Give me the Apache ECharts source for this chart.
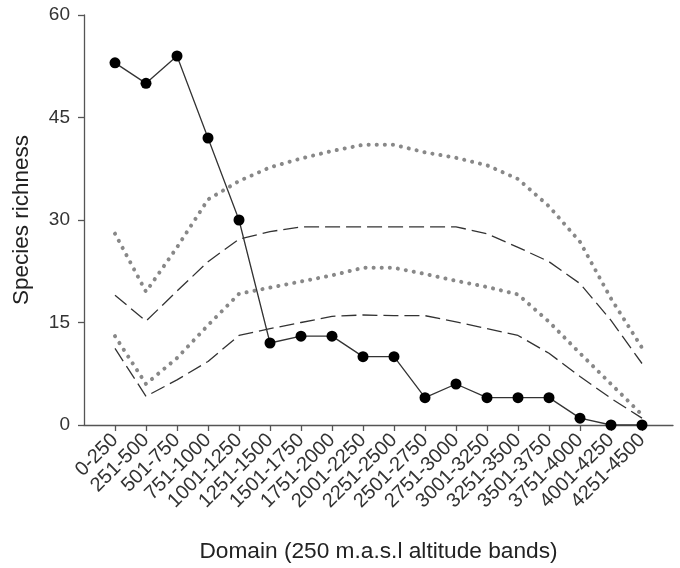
<!DOCTYPE html>
<html>
<head>
<meta charset="utf-8">
<script src="https://cdn.jsdelivr.net/npm/echarts@6/dist/echarts.min.js"></script>
<style>html,body{margin:0;padding:0;background:#fff;}#c{width:680px;height:568px;}</style>
</head>
<body>
<div id="c"></div>
<script>
var categories = ['0-250','251-500','501-750','751-1000','1001-1250','1251-1500','1501-1750','1751-2000','2001-2250','2251-2500','2501-2750','2751-3000','3001-3250','3251-3500','3501-3750','3751-4000','4001-4250','4251-4500'];
var observed = [53, 50, 54, 42, 30, 12, 13, 13, 10, 10, 4, 6, 4, 4, 4, 1, 0, 0];
var upperDotted = [28, 19.5, 26, 33, 35.7, 37.7, 39, 40.1, 41, 41, 39.9, 39.1, 38, 36, 32, 26.8, 18.5, 11.3];
var lowerDotted = [13, 6, 9.8, 14.6, 19.2, 20.1, 21, 21.9, 23, 23, 22.1, 21.1, 20.2, 19.1, 15.1, 10.5, 6, 1.5];
var upperDashed = [19, 15.2, 19.6, 23.9, 27.2, 28.3, 29, 29, 29, 29, 29, 29, 28, 26, 23.9, 20.7, 15.3, 9];
var lowerDashed = [11.2, 4.2, 6.6, 9.3, 13.1, 14.1, 15, 15.9, 16.1, 16, 16, 15.1, 14.1, 13.1, 10.5, 7.1, 3.9, 1];
var yTicks = [0, 15, 30, 45, 60];

function pad(arr) { return [null].concat(arr).concat([null]); }
var axisCats = [''].concat(categories).concat(['']);
var last = axisCats.length - 1;
var font = 'Liberation Sans, Arial, sans-serif';

var chart = echarts.init(document.getElementById('c'), null, {renderer: 'canvas'});
chart.setOption({
  animation: false,
  backgroundColor: '#fff',
  grid: {left: 84, right: 7, top: 15, bottom: 141},
  xAxis: {
    type: 'category',
    data: axisCats,
    boundaryGap: false,
    axisLine: {lineStyle: {color: '#555', width: 1.3}},
    axisTick: {
      alignWithLabel: true,
      length: 6,
      lineStyle: {color: '#555', width: 1.3},
      interval: function (i) { return i > 0 && i < last; }
    },
    axisLabel: {
      interval: 0,
      rotate: 45,
      margin: 12,
      color: '#333',
      fontSize: 20,
      fontFamily: font
    },
    name: 'Domain (250 m.a.s.l altitude bands)',
    nameLocation: 'middle',
    nameGap: 115,
    nameTextStyle: {color: '#222', fontSize: 22.7, fontFamily: font},
    splitLine: {show: false}
  },
  yAxis: {
    type: 'value',
    min: yTicks[0],
    max: yTicks[yTicks.length - 1],
    interval: 15,
    axisLine: {show: true, lineStyle: {color: '#555', width: 1.3}},
    axisTick: {show: true, length: 6, lineStyle: {color: '#555', width: 1.3}},
    axisLabel: {color: '#333', fontSize: 19, margin: 14, fontFamily: font},
    splitLine: {show: false},
    name: 'Species richness',
    nameLocation: 'middle',
    nameGap: 51,
    nameTextStyle: {color: '#222', fontSize: 22.5, fontFamily: font}
  },
  series: [
    {
      type: 'line', data: pad(upperDotted), symbol: 'none',
      lineStyle: {color: '#888', width: 4, type: [0.1, 8], cap: 'round'}, z: 2
    },
    {
      type: 'line', data: pad(lowerDotted), symbol: 'none',
      lineStyle: {color: '#888', width: 4, type: [0.1, 8], cap: 'round'}, z: 2
    },
    {
      type: 'line', data: pad(upperDashed), symbol: 'none',
      lineStyle: {color: '#333', width: 1.3, type: [15, 6]}, z: 3
    },
    {
      type: 'line', data: pad(lowerDashed), symbol: 'none',
      lineStyle: {color: '#333', width: 1.3, type: [15, 6]}, z: 3
    },
    {
      type: 'line', data: pad(observed), symbol: 'circle', symbolSize: 11,
      itemStyle: {color: '#000'},
      lineStyle: {color: '#333', width: 1.3}, z: 5
    }
  ]
});
</script>
</body>
</html>
